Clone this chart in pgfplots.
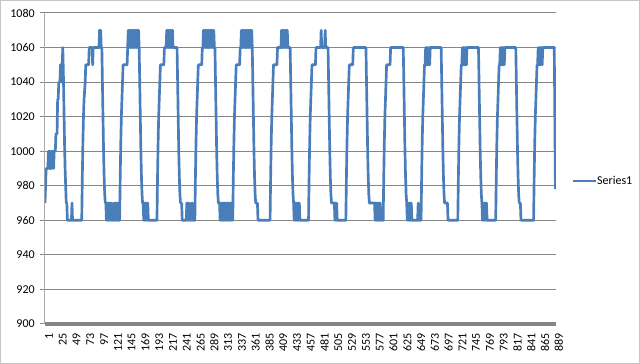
\documentclass[border=0pt]{standalone}
\usepackage{fontspec}
\setmainfont{Carlito}
\usepackage{pgfplots}
\pgfplotsset{compat=1.18}
\definecolor{ser}{RGB}{74,126,187}
\definecolor{gridc}{RGB}{134,134,134}
\begin{document}
\fontsize{9pt}{11pt}\selectfont
\begin{tikzpicture}
\useasboundingbox (-33.75pt,-30pt) rectangle (446.25pt,243pt);
\draw[gray!45, line width=0.75pt] (-33.2pt,-29.4pt) rectangle (445.6pt,242.4pt);
\begin{axis}[
  at={(0pt,0pt)}, anchor=south west, scale only axis,
  width=383.25pt, height=233.25pt,
  xmin=1, xmax=891, ymin=900, ymax=1080,
  ytick={900,920,...,1080},
  xtick={1,25,...,889},
  ymajorgrids, grid style={gridc, line width=0.75pt},
  axis x line*=bottom, axis y line*=left,
  x axis line style={-, draw=gridc, line width=2.4pt},
  y axis line style={-, draw=gridc!70, line width=0.75pt},
  tick align=outside,
  ytick style={draw=gridc, line width=0.75pt},
  major tick length=3.5pt,
  xtick style={draw=none},
  /pgf/number format/assume math mode=true,
  /pgf/number format/1000 sep={},
  ticklabel style={font=\fontsize{9pt}{11pt}\selectfont, text=black},
  yticklabel style={xshift=-1pt},
  xticklabel style={rotate=90, anchor=east, yshift=-3pt},
  legend style={draw=none, fill=none, at={(1.031,0.46)}, anchor=west,
    font=\fontsize{9pt}{11pt}\selectfont, inner sep=0pt,
    nodes={inner sep=0.5pt}},
  legend image code/.code={\draw[#1, line width=1.3pt] (0pt,0pt) -- (17pt,0pt);},
]
\addplot[ser, line width=2pt, line join=round] coordinates {
(1,970) (2,980) (3,990) (6,990) (7,1000) (8,990) (9,1000) (10,990) (11,990) (12,1000) (13,990) (14,1000) (15,1000) (16,990) (17,1000) (19,1000) (20,1010) (22,1010) (23,1030) (24,1030) (25,1040) (27,1040) (28,1050) (29,1050) (30,1040) (31,1050) (32,1060) (33,1045) (34,1025) (35,1005) (36,990) (37,980) (38,970) (39,970) (40,960) (47,960) (48,970) (49,960) (65,960)
(66,985) (67,1005) (68,1020) (69,1030) (70,1035) (71,1040) (72,1050) (77,1050) (78,1060) (83,1060) (84,1050) (85,1060) (95,1060) (96,1070) (97,1060) (98,1070) (99,1060) (100,1060)
(101,1040) (102,1020) (103,1000) (104,985) (105,975) (106,970) (107,970) (108,960) (109,970) (110,960) (111,970) (112,960) (113,970) (114,960) (115,970) (116,960) (117,970) (118,960) (120,960) (121,970) (122,960) (123,970) (124,960) (125,970) (126,960) (127,970) (128,960) (129,970) (130,960) (131,960)
(132,985) (133,1005) (134,1020) (135,1030) (136,1040) (137,1050) (144,1050) (145,1060) (146,1070) (147,1060) (148,1070) (149,1060) (150,1070) (151,1060) (152,1070) (153,1060) (154,1070) (155,1060) (156,1070) (157,1060) (158,1070) (159,1060) (160,1070) (161,1060) (162,1070) (163,1060) (164,1070) (165,1060)
(166,1040) (167,1020) (168,1000) (169,985) (170,975) (171,970) (172,970) (173,960) (174,970) (175,960) (176,970) (177,960) (178,970) (179,960) (180,970) (181,960) (196,960)
(197,985) (198,1005) (199,1020) (200,1030) (201,1040) (202,1050) (208,1050) (209,1060) (212,1060) (213,1070) (214,1060) (215,1070) (216,1060) (217,1070) (218,1060) (219,1070) (220,1060) (221,1070) (222,1060) (223,1070) (224,1060) (231,1060)
(232,1040) (233,1020) (234,1000) (235,985) (236,975) (237,970) (239,970) (240,960) (247,960) (248,970) (249,960) (250,970) (251,960) (252,970) (253,960) (255,960) (256,970) (257,960) (258,970) (259,960) (262,960)
(263,985) (264,1005) (265,1020) (266,1030) (267,1040) (268,1050) (274,1050) (275,1060) (276,1060) (277,1070) (278,1060) (279,1070) (280,1060) (281,1070) (282,1060) (283,1070) (284,1060) (285,1070) (286,1060) (287,1070) (288,1060) (289,1070) (290,1060) (291,1070) (292,1060) (293,1070) (294,1060) (295,1070) (296,1060) (297,1060)
(298,1040) (299,1020) (300,1000) (301,985) (302,975) (303,970) (305,970) (306,960) (307,970) (308,960) (309,970) (310,960) (311,970) (312,960) (313,970) (314,960) (315,970) (316,960) (317,970) (318,960) (319,970) (320,960) (321,970) (322,960) (323,970) (324,960) (325,970) (326,960) (327,970) (328,960)
(329,985) (330,1005) (331,1020) (332,1030) (333,1040) (334,1050) (340,1050) (341,1060) (342,1060) (343,1070) (344,1060) (345,1070) (346,1060) (347,1070) (348,1060) (349,1070) (350,1060) (351,1070) (352,1060) (353,1070) (354,1060) (355,1070) (356,1060) (357,1070) (358,1060) (359,1070) (360,1060) (361,1070) (362,1060)
(363,1040) (364,1020) (365,1000) (366,985) (367,975) (368,970) (371,970) (372,960) (393,960)
(394,985) (395,1005) (396,1020) (397,1030) (398,1040) (399,1050) (405,1050) (406,1060) (412,1060) (413,1070) (414,1060) (415,1070) (416,1060) (417,1070) (418,1060) (419,1070) (420,1060) (421,1070) (422,1060) (423,1070) (424,1060) (428,1060)
(429,1040) (430,1020) (431,1000) (432,985) (433,975) (434,970) (435,960) (436,970) (437,960) (438,970) (439,960) (440,970) (441,960) (442,970) (443,960) (444,970) (445,960) (460,960)
(461,985) (462,1005) (463,1020) (464,1030) (465,1040) (466,1050) (472,1050) (473,1060) (481,1060) (482,1070) (483,1060) (488,1060) (489,1070) (490,1060) (494,1060)
(495,1040) (496,1020) (497,1000) (498,985) (499,975) (500,970) (505,970) (506,960) (507,970) (508,960) (509,970) (510,960) (525,960)
(526,985) (527,1005) (528,1020) (529,1030) (530,1040) (531,1050) (537,1050) (538,1060) (560,1060)
(561,1040) (562,1020) (563,1000) (564,985) (565,975) (566,970) (575,970) (576,960) (577,970) (578,960) (579,970) (580,960) (581,970) (582,960) (583,970) (584,960) (585,970) (586,960) (590,960)
(591,985) (592,1005) (593,1020) (594,1030) (595,1040) (596,1050) (602,1050) (603,1060) (625,1060)
(626,1040) (627,1020) (628,1000) (629,985) (630,975) (631,970) (632,960) (633,970) (634,960) (635,970) (636,960) (637,970) (638,960) (639,970) (640,960) (650,960) (651,970) (652,960) (656,960)
(657,985) (658,1005) (659,1020) (660,1030) (661,1040) (662,1050) (663,1050) (664,1060) (665,1050) (666,1060) (667,1050) (668,1060) (669,1050) (670,1060) (671,1050) (672,1060) (691,1060)
(692,1040) (693,1020) (694,1000) (695,985) (696,975) (697,970) (702,970) (703,960) (720,960)
(721,985) (722,1005) (723,1020) (724,1030) (725,1040) (726,1050) (727,1050) (728,1060) (729,1050) (730,1060) (731,1050) (732,1060) (733,1050) (734,1060) (735,1050) (736,1060) (756,1060)
(757,1040) (758,1020) (759,1000) (760,985) (761,975) (762,970) (763,960) (764,970) (765,960) (766,970) (767,960) (768,970) (769,960) (770,970) (771,960) (786,960)
(787,985) (788,1005) (789,1020) (790,1030) (791,1040) (792,1050) (793,1050) (794,1060) (795,1050) (796,1060) (797,1050) (798,1060) (799,1050) (800,1060) (801,1050) (802,1060) (821,1060)
(822,1040) (823,1020) (824,1000) (825,985) (826,975) (827,970) (829,970) (830,960) (852,960)
(853,985) (854,1005) (855,1020) (856,1030) (857,1040) (858,1050) (859,1050) (860,1060) (861,1050) (862,1060) (863,1050) (864,1060) (865,1050) (866,1060) (867,1050) (868,1060) (888,1060) (889,1020) (890,978)
};
\addlegendentry{Series1}
\end{axis}
\end{tikzpicture}
\end{document}
